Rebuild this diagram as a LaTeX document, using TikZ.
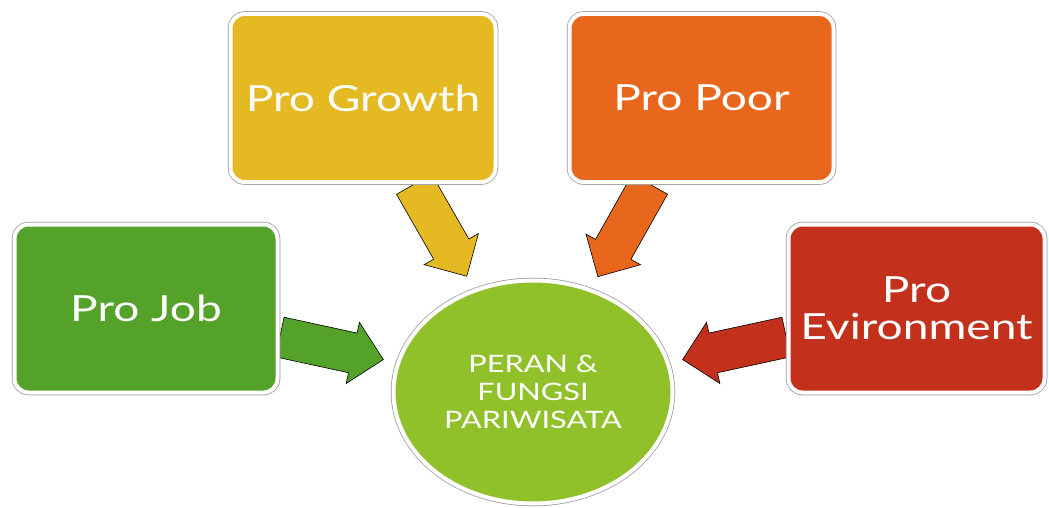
\documentclass[tikz,border=0pt]{standalone}
\usepackage{fontspec}
\setmainfont{Lato}[FakeStretch=1.28]
\usetikzlibrary{shapes.geometric,shapes.arrows,backgrounds,calc}
\definecolor{jobgreen}{HTML}{55A22A}
\definecolor{growthyellow}{HTML}{E5B921}
\definecolor{poororange}{HTML}{E8671C}
\definecolor{envred}{HTML}{C3301B}
\definecolor{hubgreen}{HTML}{90C12A}
\begin{document}
\begin{tikzpicture}[x=1pt, y=1pt,
    box/.style={rectangle, rounded corners=14pt, draw=white, line width=4pt,
        preaction={draw=gray!80, line width=5.5pt},
        minimum width=263pt, minimum height=168pt, text=white, align=center,
        font=\fontsize{36}{37}\selectfont},
    hub/.style={ellipse, draw=white, line width=4pt,
        preaction={draw=gray!80, line width=5.5pt},
        minimum width=279pt, minimum height=223pt, text=white, align=center,
        font=\fontsize{24}{28}\selectfont},
    flow/.style={single arrow, draw=black, line width=0.6pt, inner xsep=0pt,
        inner ysep=20pt, minimum height=106pt, single arrow head extend=11pt,
        sloped, allow upside down, anchor=tail}
]
    \useasboundingbox (0,0) rectangle (1049,507);
    % boxes round the hub
    \node[box, fill=jobgreen] (job) at (146,198.5) {Pro Job};
    \node[box, fill=growthyellow, minimum width=265pt] (growth) at (363,409) {Pro Growth};
    \node[box, fill=poororange, minimum width=264pt] (poor) at (701.5,409) {Pro Poor};
    \node[box, fill=envred, minimum width=256pt] (env) at (916.5,198.5) {Pro\\Evironment};
    \node[hub, fill=hubgreen] (peran) at (533,115) {PERAN \&\\FUNGSI\\PARIWISATA};
    % block arrows behind the boxes
    \coordinate (jobtail) at ([yshift=-28.5pt]job.east);
    \coordinate (growthtail) at ([xshift=51pt]growth.south);
    \coordinate (poortail) at ([xshift=-51.5pt]poor.south);
    \coordinate (envtail) at ([yshift=-28.5pt]env.west);
    \begin{scope}[on background layer]
        \path (jobtail) -- (peran.center) node[flow, pos=0, fill=jobgreen] {};
        \path (growthtail) -- (peran.center) node[flow, pos=0, fill=growthyellow] {};
        \path (poortail) -- (peran.center) node[flow, pos=0, fill=poororange] {};
        \path (envtail) -- (peran.center) node[flow, pos=0, fill=envred] {};
    \end{scope}
\end{tikzpicture}
\end{document}
